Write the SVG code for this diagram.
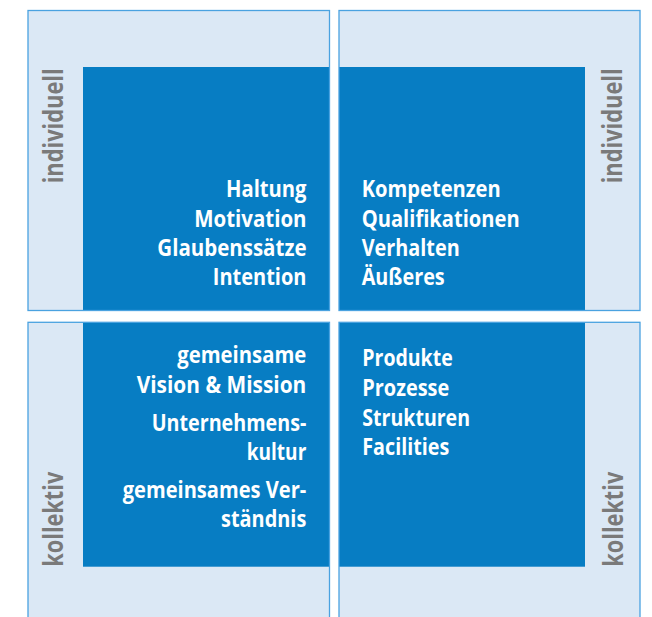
<svg xmlns="http://www.w3.org/2000/svg" width="652" height="617" viewBox="0 0 652 617">
<style>
.panel{fill:#dbe8f5;}
.edge{fill:none;stroke:#4aa2e0;stroke-width:1.3;}
.core{fill:#077dc3;}
.t{font-family:"Open Sans","Noto Sans","Liberation Sans",sans-serif;font-weight:700;font-size:23.5px;fill:#ffffff;}
.side{font-family:"Open Sans","Noto Sans","Liberation Sans",sans-serif;font-weight:700;font-size:26.5px;fill:#7a7a7a;}
</style>
<rect width="652" height="617" fill="#ffffff"/>
<g id="q-individuell-innen">
<rect class="panel" x="28" y="10.5" width="301.5" height="300"/>
<rect class="core" x="83" y="67" width="246.5" height="243.5"/>
<rect class="edge" x="28" y="10.5" width="301.5" height="300"/>
<text class="side" transform="translate(62.5,183.3) rotate(-90)" textLength="115" lengthAdjust="spacingAndGlyphs">individuell</text>
<text class="t" x="226" y="197.3" textLength="80.5" lengthAdjust="spacingAndGlyphs">Haltung</text>
<text class="t" x="194.3" y="226.7" textLength="112.2" lengthAdjust="spacingAndGlyphs">Motivation</text>
<text class="t" x="157.3" y="256" textLength="149.2" lengthAdjust="spacingAndGlyphs">Glaubenssätze</text>
<text class="t" x="212.8" y="285" textLength="93.7" lengthAdjust="spacingAndGlyphs">Intention</text>
</g>
<g id="q-individuell-aussen">
<rect class="panel" x="339" y="10.5" width="301" height="300"/>
<rect class="core" x="339" y="67" width="246" height="243.5"/>
<rect class="edge" x="339" y="10.5" width="301" height="300"/>
<text class="side" transform="translate(622,183.3) rotate(-90)" textLength="115" lengthAdjust="spacingAndGlyphs">individuell</text>
<text class="t" x="361.7" y="197.3" textLength="139" lengthAdjust="spacingAndGlyphs">Kompetenzen</text>
<text class="t" x="361.7" y="226.7" textLength="158" lengthAdjust="spacingAndGlyphs">Qualifikationen</text>
<text class="t" x="361.7" y="256" textLength="98" lengthAdjust="spacingAndGlyphs">Verhalten</text>
<text class="t" x="361.7" y="285" textLength="83" lengthAdjust="spacingAndGlyphs">Äußeres</text>
</g>
<g id="q-kollektiv-innen">
<rect class="panel" x="28" y="322.3" width="301.5" height="300"/>
<rect class="core" x="83" y="322.3" width="246.5" height="244.4"/>
<rect class="edge" x="28" y="322.3" width="301.5" height="300"/>
<text class="side" transform="translate(63,566.7) rotate(-90)" textLength="95" lengthAdjust="spacingAndGlyphs">kollektiv</text>
<text class="t" x="177.3" y="363.3" textLength="129" lengthAdjust="spacingAndGlyphs">gemeinsame</text>
<text class="t" x="136.7" y="393.3" textLength="169.6" lengthAdjust="spacingAndGlyphs">Vision &amp; Mission</text>
<text class="t" x="151.7" y="431" textLength="154.6" lengthAdjust="spacingAndGlyphs">Unternehmens-</text>
<text class="t" x="246.7" y="460" textLength="59.6" lengthAdjust="spacingAndGlyphs">kultur</text>
<text class="t" x="122.7" y="497.7" textLength="183.6" lengthAdjust="spacingAndGlyphs">gemeinsames Ver-</text>
<text class="t" x="221" y="527.3" textLength="85.3" lengthAdjust="spacingAndGlyphs">ständnis</text>
</g>
<g id="q-kollektiv-aussen">
<rect class="panel" x="339" y="322.3" width="301" height="300"/>
<rect class="core" x="339" y="322.3" width="246" height="244.4"/>
<rect class="edge" x="339" y="322.3" width="301" height="300"/>
<text class="side" transform="translate(623,566.7) rotate(-90)" textLength="95" lengthAdjust="spacingAndGlyphs">kollektiv</text>
<text class="t" x="362.3" y="366" textLength="90.4" lengthAdjust="spacingAndGlyphs">Produkte</text>
<text class="t" x="362.3" y="396" textLength="87" lengthAdjust="spacingAndGlyphs">Prozesse</text>
<text class="t" x="362.3" y="426" textLength="107.7" lengthAdjust="spacingAndGlyphs">Strukturen</text>
<text class="t" x="362.3" y="455" textLength="87" lengthAdjust="spacingAndGlyphs">Facilities</text>
</g>
<g id="connectors"/>
</svg>
